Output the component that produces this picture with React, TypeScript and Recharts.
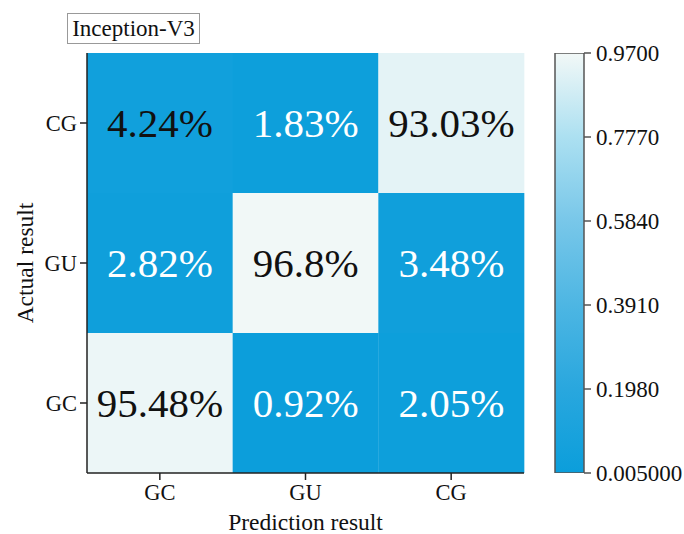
import React from "react";
import { BarChart, Bar, XAxis, YAxis, Cell, LabelList } from "recharts";

// predicted classes (columns), actual classes (rows, bottom to top)
const predicted = ["GC", "GU", "CG"];
const actual = ["GC", "GU", "CG"];
// percent per actual row, in predicted order
const rowGC = [95.48, 0.92, 2.05];
const rowGU = [2.82, 96.8, 3.48];
const rowCG = [4.24, 1.83, 93.03];

const cbTicks = [0.005, 0.198, 0.391, 0.584, 0.777, 0.97];
const cbTickLabels = ["0.005000", "0.1980", "0.3910", "0.5840", "0.7770", "0.9700"];
const cbColors = ["#0b9edb", "#29a7de", "#4db6e3", "#78c7e9", "#ace0f1", "#f2f8f7"];

const FONT = "Liberation Serif";

function hex(c: string) {
  return [1, 3, 5].map((i) => parseInt(c.slice(i, i + 2), 16));
}

function colorFor(v: number) {
  if (v <= cbTicks[0]) return cbColors[0];
  for (let i = 1; i < cbTicks.length; i++) {
    if (v <= cbTicks[i]) {
      const t = (v - cbTicks[i - 1]) / (cbTicks[i] - cbTicks[i - 1]);
      const a = hex(cbColors[i - 1]);
      const b = hex(cbColors[i]);
      const m = a.map((x, k) => Math.round(x + (b[k] - x) * t));
      return `rgb(${m[0]},${m[1]},${m[2]})`;
    }
  }
  return cbColors[cbColors.length - 1];
}

const rows = [rowGC, rowGU, rowCG];
const data = predicted.map((p, i) => ({
  pred: p,
  GC: 1,
  GU: 1,
  CG: 1,
  vGC: rowGC[i],
  vGU: rowGU[i],
  vCG: rowCG[i],
}));

const cbData = [{ name: "scale", v: 0.97 }];

const CellLabel = (props: any) => {
  const { x, y, width, height, value } = props;
  const v = Number(value);
  return (
    <text
      x={x + width / 2}
      y={y + height / 2}
      textAnchor="middle"
      dominantBaseline="central"
      style={{ fontFamily: FONT, fontSize: 41 }}
      fill={v > 4 ? "#111" : "#fff"}
    >
      {`${v}%`}
    </text>
  );
};

const tickStyle = { fontSize: 22.5, fill: "#111", fontFamily: FONT };

export default function App() {
  return (
    <div style={{ position: "absolute", left: 0, top: 0, width: 684, height: 534, background: "#fff", fontFamily: FONT }}>
      <div
        style={{
          position: "absolute",
          left: 67,
          top: 13,
          width: 131,
          height: 29,
          border: "1px solid #999",
          fontSize: 23,
          lineHeight: "29px",
          textAlign: "center",
          color: "#111",
        }}
      >
        Inception-V3
      </div>

      <div style={{ position: "absolute", left: 0, top: 0, fontFamily: FONT }}>
        <BarChart
          width={540}
          height={534}
          data={data}
          barCategoryGap={0}
          margin={{ top: 53, right: 16, left: 0, bottom: 0 }}
          style={{ fontFamily: FONT }}
        >
          <XAxis
            dataKey="pred"
            height={61}
            tick={tickStyle}
            tickSize={7}
            tickMargin={4}
            axisLine={{ stroke: "#222", strokeWidth: 1.5 }}
            tickLine={{ stroke: "#222", strokeWidth: 1.5 }}
            label={{ value: "Prediction result", position: "insideBottom", offset: 4, fontSize: 23.5, fill: "#111", fontFamily: FONT }}
          />
          <XAxis
            xAxisId="top"
            dataKey="pred"
            orientation="top"
            height={0}
            tick={false}
            tickLine={false}
            axisLine={{ stroke: "#222", strokeWidth: 1.5 }}
          />
          <YAxis
            type="number"
            domain={[0, 3]}
            ticks={[0.5, 1.5, 2.5]}
            tickFormatter={(v: number) => actual[Math.floor(v)]}
            width={87}
            tick={tickStyle}
            tickSize={7}
            tickMargin={3}
            axisLine={{ stroke: "#222", strokeWidth: 1.5 }}
            tickLine={{ stroke: "#222", strokeWidth: 1.5 }}
            label={{ value: "Actual result", angle: -90, position: "insideLeft", offset: 25, fontSize: 23.5, fill: "#111", fontFamily: FONT, style: { textAnchor: "middle" } }}
          />
          <YAxis
            yAxisId="right"
            orientation="right"
            type="number"
            domain={[0, 3]}
            width={0}
            tick={false}
            tickLine={false}
            axisLine={{ stroke: "#222", strokeWidth: 1.5 }}
          />
          {actual.map((a, r) => (
            <Bar key={a} dataKey={a} stackId="m" isAnimationActive={false}>
              {data.map((d, i) => (
                <Cell key={i} fill={colorFor(rows[r][i] / 100)} />
              ))}
              <LabelList dataKey={`v${a}`} content={CellLabel} />
            </Bar>
          ))}
        </BarChart>
      </div>

      <div style={{ position: "absolute", left: 540, top: 0, fontFamily: FONT }}>
        <BarChart
          width={144}
          height={534}
          data={cbData}
          barCategoryGap={0}
          margin={{ top: 53, right: 0, left: 15, bottom: 61 }}
          style={{ fontFamily: FONT }}
        >
          <defs>
            <linearGradient id="cbGrad" x1="0" y1="1" x2="0" y2="0">
              {cbColors.map((c, i) => (
                <stop key={i} offset={`${((cbTicks[i] - cbTicks[0]) / (cbTicks[5] - cbTicks[0])) * 100}%`} stopColor={c} />
              ))}
            </linearGradient>
          </defs>
          <XAxis dataKey="name" hide />
          <YAxis
            orientation="right"
            type="number"
            domain={[0.005, 0.97]}
            ticks={cbTicks}
            tickFormatter={(v: number) => cbTickLabels[cbTicks.indexOf(v)]}
            width={100}
            allowDataOverflow
            tick={{ ...tickStyle, fontSize: 23, textAnchor: "start" }}
            tickSize={7}
            tickMargin={5}
            axisLine={false}
            tickLine={{ stroke: "#555", strokeWidth: 1.5 }}
          />
          <Bar dataKey="v" fill="url(#cbGrad)" stroke="#555" strokeWidth={1.5} isAnimationActive={false} />
        </BarChart>
      </div>
    </div>
  );
}
